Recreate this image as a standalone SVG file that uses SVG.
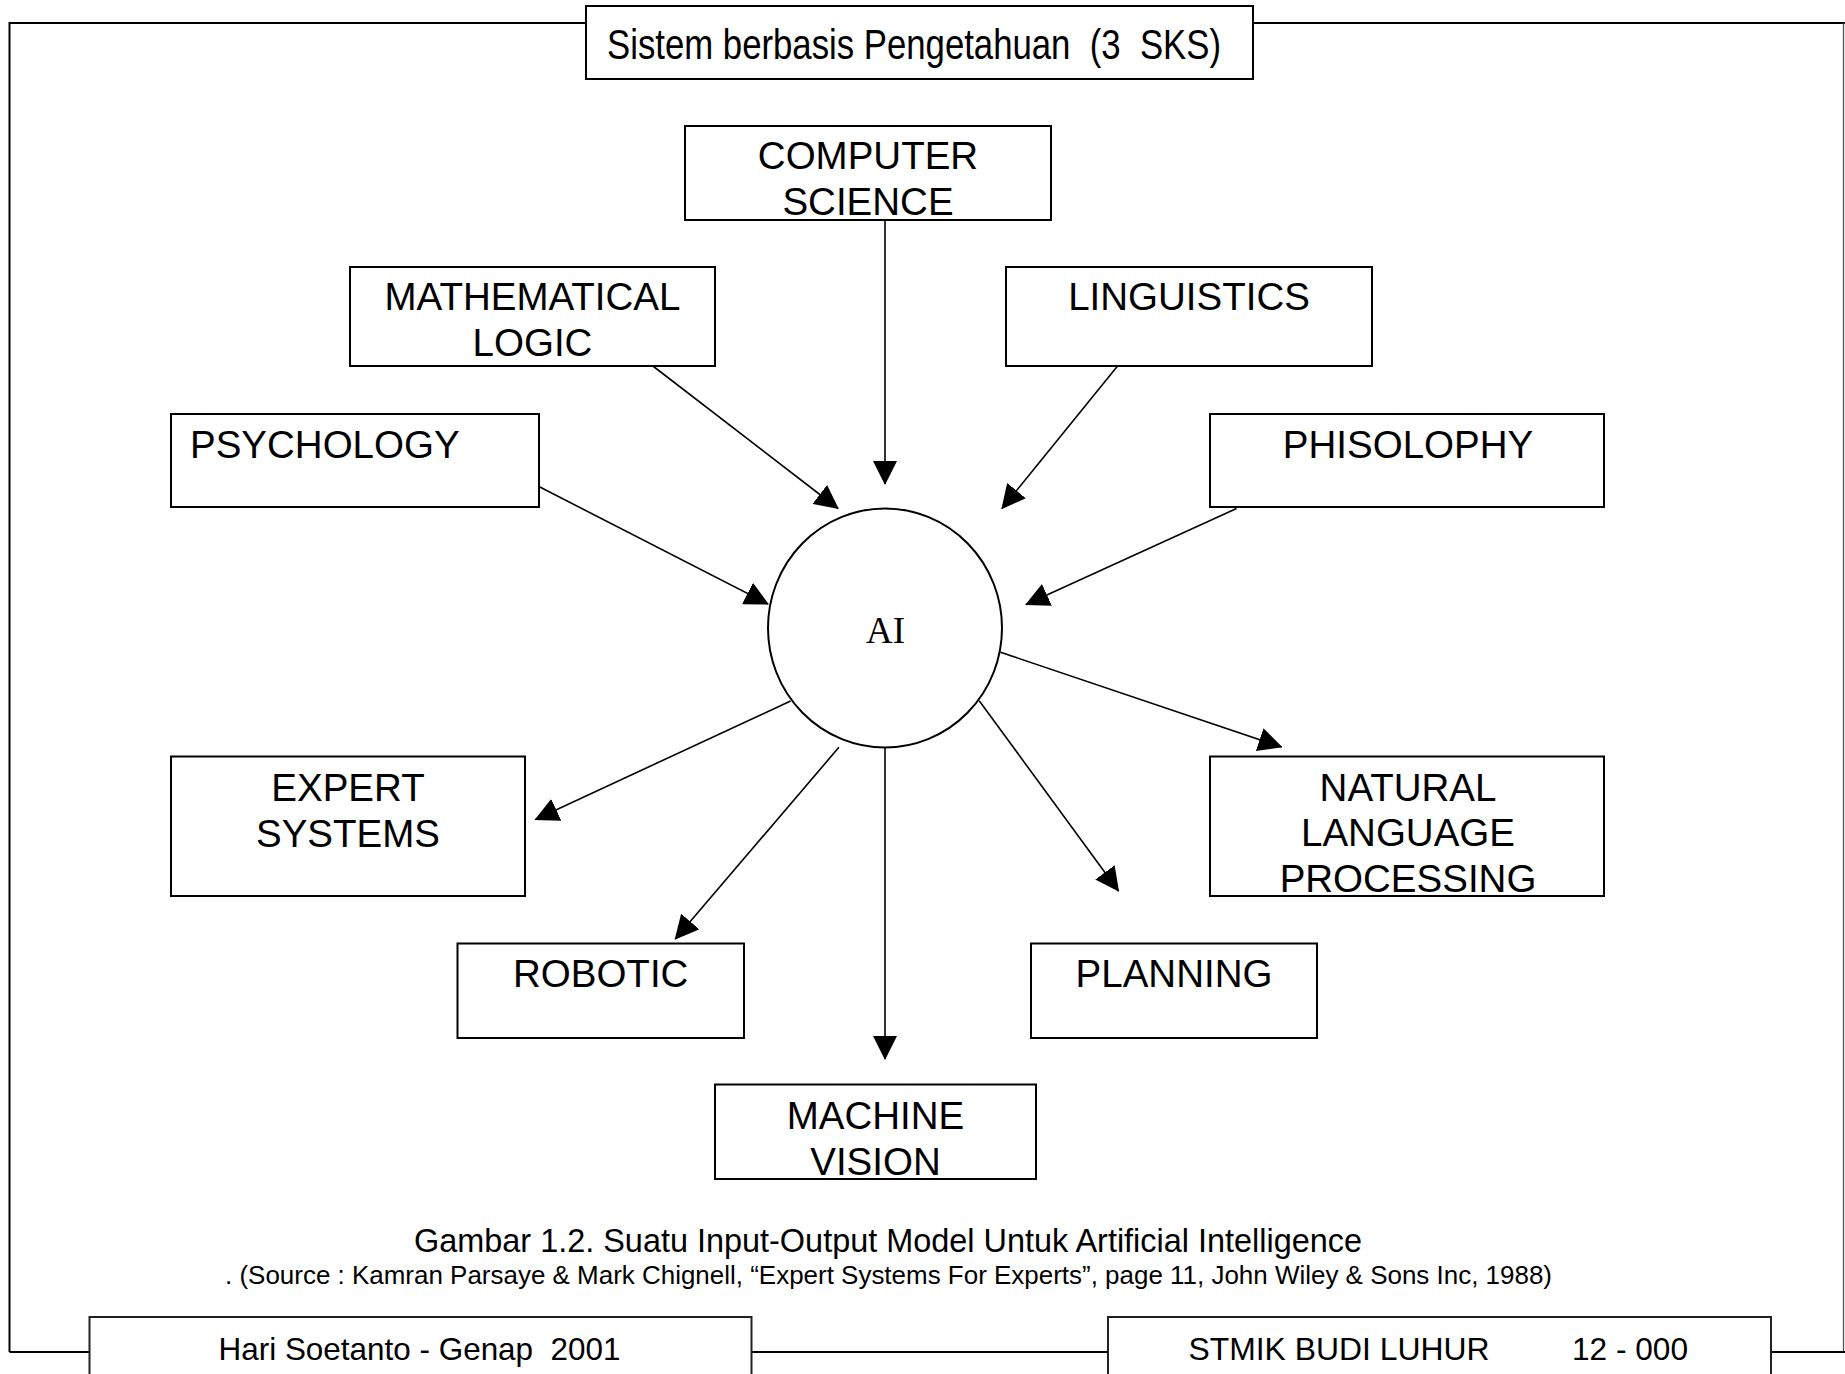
<svg xmlns="http://www.w3.org/2000/svg" width="1845" height="1374" viewBox="0 0 1845 1374" xml:space="preserve">
<style>
text{white-space:pre}
.bx{fill:#fff;stroke:#000;stroke-width:2}
.lbl{font-family:"Liberation Sans",Arial,Helvetica,sans-serif;font-size:38.5px;fill:#000}
.nar{font-family:"Liberation Sans",Arial,Helvetica,sans-serif;fill:#000}
.c{text-anchor:middle}
.cn{fill:none;stroke:#000;stroke-width:1.6;marker-end:url(#ah)}
.fr{fill:none;stroke:#000;stroke-width:2}
</style>
<defs>
<marker id="ah" markerUnits="userSpaceOnUse" markerWidth="24" markerHeight="24" viewBox="0 0 24 24" refX="23" refY="12" orient="auto">
<path d="M0,0 L24,12 L0,24 z" fill="#000"/>
</marker>
</defs>
<rect width="1845" height="1374" fill="#fff"/>
<g id="frame">
<line class="fr" x1="9.5" y1="23" x2="1845" y2="23"/>
<line class="fr" x1="9.5" y1="22" x2="9.5" y2="1352"/>
<line x1="1843.5" y1="23" x2="1843.5" y2="1352" stroke="#555" stroke-width="1.3"/>
<line class="fr" x1="9.5" y1="1352" x2="1845" y2="1352"/>
</g>
<g id="title">
<rect class="bx" x="586" y="6" width="667" height="73"/>
<text class="nar" x="607" y="59" font-size="42" textLength="614" lengthAdjust="spacingAndGlyphs">Sistem berbasis Pengetahuan  (3  SKS)</text>
</g>
<g id="connectors">
<line class="cn" x1="885" y1="220" x2="885" y2="484"/>
<line class="cn" x1="651.6" y1="365" x2="838" y2="508.5"/>
<line class="cn" x1="1119" y1="364.3" x2="1002" y2="508.5"/>
<line class="cn" x1="534" y1="484" x2="768" y2="604"/>
<line class="cn" x1="1236.5" y1="508.5" x2="1026" y2="604.5"/>
<line class="cn" x1="1000.5" y1="652.3" x2="1281.5" y2="747"/>
<line class="cn" x1="790.6" y1="701" x2="535.4" y2="819.5"/>
<line class="cn" x1="838.9" y1="747.3" x2="675.3" y2="939"/>
<line class="cn" x1="885" y1="747.3" x2="885" y2="1059"/>
<line class="cn" x1="979.2" y1="700.7" x2="1118.5" y2="891"/>
</g>
<g id="ai">
<ellipse cx="885" cy="628" rx="117" ry="119.5" fill="#fff" stroke="#000" stroke-width="2"/>
<text x="885.5" y="642.7" text-anchor="middle" font-family="'Liberation Serif','Times New Roman',serif" font-size="37" fill="#000">AI</text>
</g>
<g id="computer-science">
<rect class="bx" x="685" y="126" width="366" height="94"/>
<text class="lbl c" x="868" y="169">COMPUTER</text>
<text class="lbl c" x="868" y="215">SCIENCE</text>
</g>
<g id="mathematical-logic">
<rect class="bx" x="350" y="267" width="365" height="99"/>
<text class="lbl c" x="532.5" y="310">MATHEMATICAL</text>
<text class="lbl c" x="532.5" y="356">LOGIC</text>
</g>
<g id="linguistics">
<rect class="bx" x="1006" y="267" width="366" height="99"/>
<text class="lbl c" x="1189" y="310">LINGUISTICS</text>
</g>
<g id="psychology">
<rect class="bx" x="171" y="414" width="368" height="93"/>
<text class="lbl" x="190" y="457.5">PSYCHOLOGY</text>
</g>
<g id="phisolophy">
<rect class="bx" x="1210" y="414" width="394" height="93"/>
<text class="lbl c" x="1408" y="457.5">PHISOLOPHY</text>
</g>
<g id="expert-systems">
<rect class="bx" x="171" y="756.5" width="354" height="139.5"/>
<text class="lbl c" x="348" y="800.5">EXPERT</text>
<text class="lbl c" x="348" y="846.5">SYSTEMS</text>
</g>
<g id="nlp">
<rect class="bx" x="1210" y="756.5" width="394" height="139.5"/>
<text class="lbl c" x="1408" y="800.5">NATURAL</text>
<text class="lbl c" x="1408" y="846">LANGUAGE</text>
<text class="lbl c" x="1408" y="891.5">PROCESSING</text>
</g>
<g id="robotic">
<rect class="bx" x="457.5" y="943.5" width="286.5" height="94.5"/>
<text class="lbl c" x="600.7" y="987">ROBOTIC</text>
</g>
<g id="planning">
<rect class="bx" x="1031" y="943.5" width="286" height="94.5"/>
<text class="lbl c" x="1174" y="987">PLANNING</text>
</g>
<g id="machine-vision">
<rect class="bx" x="715" y="1084.5" width="321" height="94.5"/>
<text class="lbl c" x="875.5" y="1129">MACHINE</text>
<text class="lbl c" x="875.5" y="1175">VISION</text>
</g>
<g id="caption">
<text class="nar" x="414" y="1252" font-size="34" textLength="948" lengthAdjust="spacingAndGlyphs">Gambar 1.2. Suatu Input-Output Model Untuk Artificial Intelligence</text>
<text class="nar" x="225" y="1284" font-size="25" textLength="1327" lengthAdjust="spacingAndGlyphs">. (Source : Kamran Parsaye &amp; Mark Chignell, “Expert Systems For Experts”, page 11, John Wiley &amp; Sons Inc, 1988)</text>
</g>
<g id="footer-left">
<rect x="89.5" y="1317" width="662" height="70" fill="#fff" stroke="#222" stroke-width="2"/>
<text class="nar" x="218.5" y="1360" font-size="32" textLength="402" lengthAdjust="spacingAndGlyphs">Hari Soetanto - Genap  2001</text>
</g>
<g id="footer-right">
<rect x="1108" y="1317" width="663" height="70" fill="#fff" stroke="#222" stroke-width="2"/>
<text class="nar" x="1188.5" y="1360" font-size="32" textLength="301" lengthAdjust="spacingAndGlyphs">STMIK BUDI LUHUR</text>
<text class="nar" x="1572" y="1360" font-size="32" textLength="116" lengthAdjust="spacingAndGlyphs">12 - 000</text>
</g>
</svg>
